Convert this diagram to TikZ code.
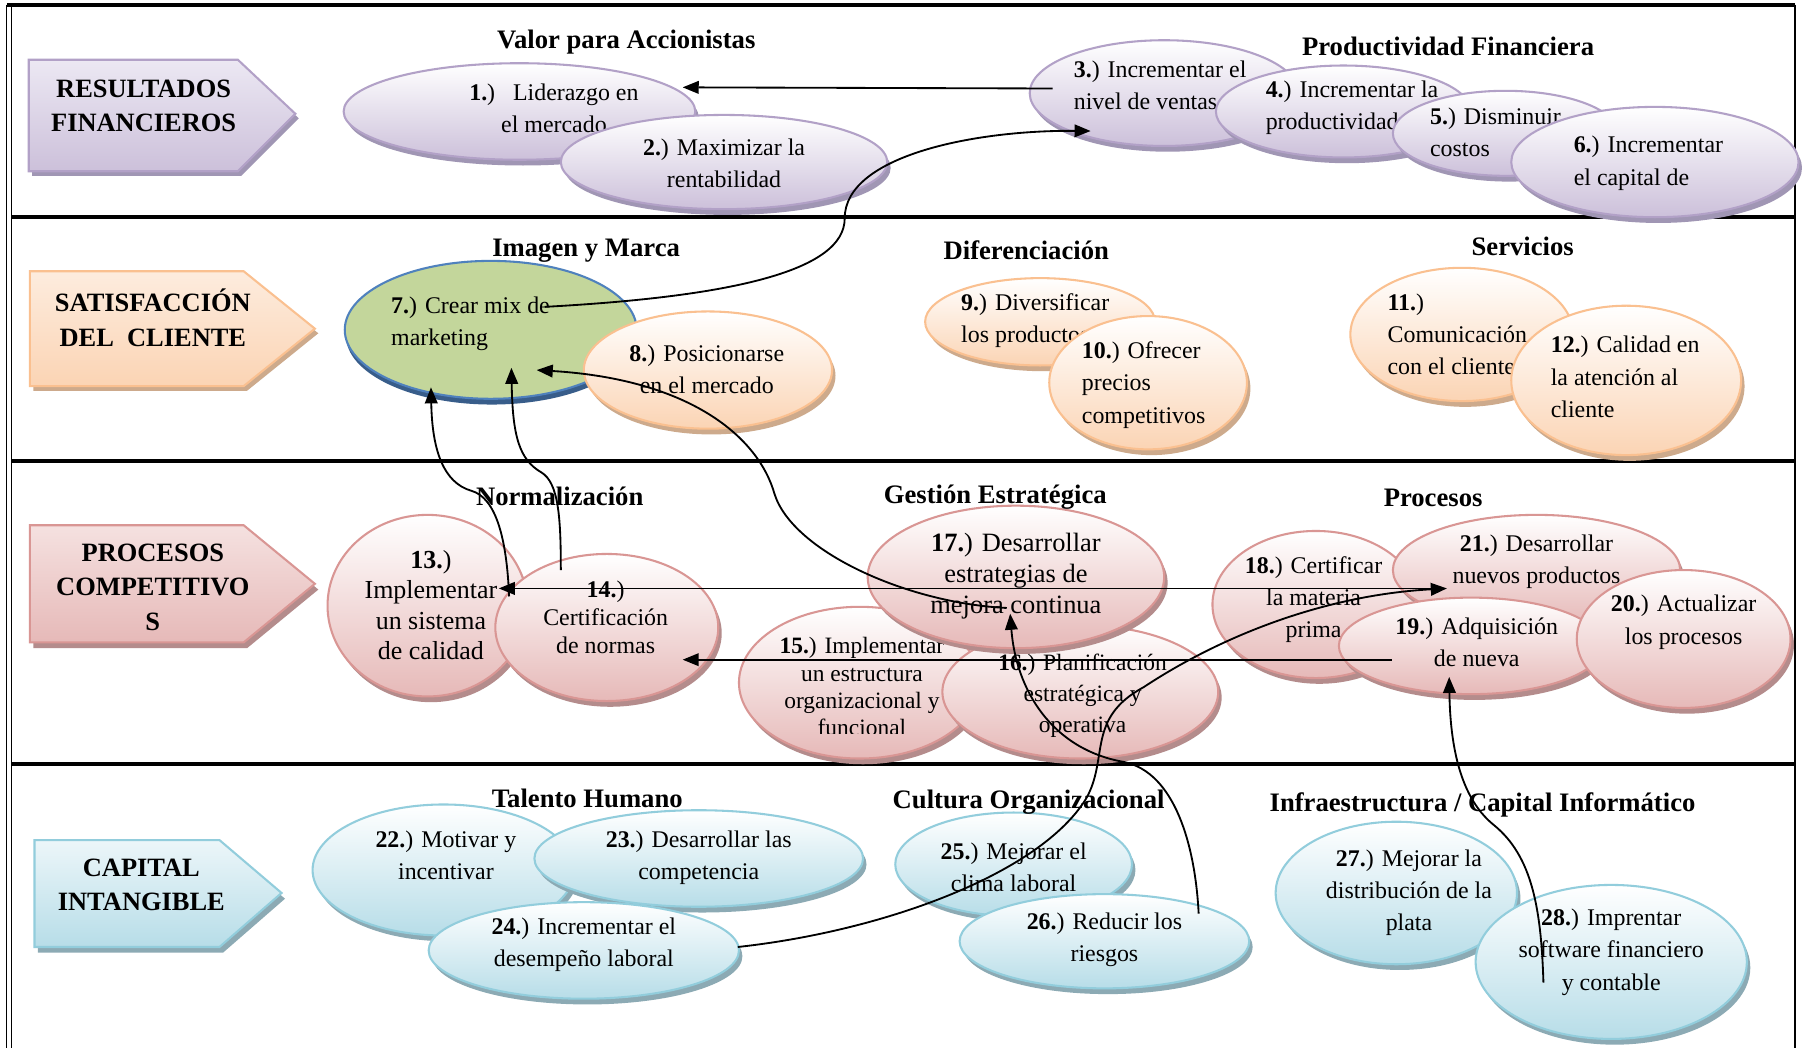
\documentclass[tikz,border=0pt]{standalone}
\usepackage{fontspec}
\setmainfont{Liberation Serif}
\usetikzlibrary{shapes.geometric,shadows,arrows.meta,calc}

% palette
\definecolor{purpB}{RGB}{178,161,199}
\definecolor{purpF}{RGB}{204,192,218}
\definecolor{purpL}{RGB}{236,232,243}
\definecolor{purpS}{RGB}{160,150,180}
\definecolor{orgB}{RGB}{250,192,144}
\definecolor{orgF}{RGB}{251,212,180}
\definecolor{orgL}{RGB}{253,236,222}
\definecolor{orgS}{RGB}{205,170,140}
\definecolor{pinkB}{RGB}{217,150,148}
\definecolor{pinkF}{RGB}{230,185,184}
\definecolor{pinkL}{RGB}{245,225,224}
\definecolor{pinkS}{RGB}{180,140,140}
\definecolor{blueB}{RGB}{146,205,220}
\definecolor{blueF}{RGB}{183,221,232}
\definecolor{blueL}{RGB}{236,246,249}
\definecolor{blueS}{RGB}{140,170,180}
\definecolor{grnF}{RGB}{195,214,155}
\definecolor{grnB}{RGB}{79,129,189}
\definecolor{grnS}{RGB}{56,93,138}

\begin{document}
\begin{tikzpicture}[x=0.5pt,y=-0.5pt,
  bub/.style={ellipse, inner sep=0pt, line width=0.9pt},
  pu/.style={bub, draw=purpB, top color=white, bottom color=purpF,
    drop shadow={shadow xshift=1.5pt, shadow yshift=-2.5pt, fill=purpS, opacity=1}},
  og/.style={bub, draw=orgB, top color=white, bottom color=orgF,
    drop shadow={shadow xshift=1.5pt, shadow yshift=-2.5pt, fill=orgS, opacity=1}},
  pk/.style={bub, draw=pinkB, top color=white, bottom color=pinkF,
    drop shadow={shadow xshift=1.5pt, shadow yshift=-2.5pt, fill=pinkS, opacity=1}},
  bl/.style={bub, draw=blueB, top color=white, bottom color=blueF,
    drop shadow={shadow xshift=1.5pt, shadow yshift=-2.5pt, fill=blueS, opacity=1}},
  gr/.style={bub, draw=grnB, fill=grnF,
    drop shadow={shadow xshift=0.5pt, shadow yshift=-2.5pt, fill=grnS, opacity=1}},
  txt/.style={inner sep=0pt, align=center, font=\fontsize{10.4}{14}\selectfont},
  txtl/.style={txt, align=left, anchor=west},
  hdr/.style={inner sep=0pt, font=\bfseries\fontsize{11.6}{14}\selectfont},
  lbl/.style={inner sep=0pt, align=center, font=\bfseries\fontsize{11.5}{15}\selectfont},
  arr/.style={-{Triangle[length=7pt,width=5.5pt]}, line width=0.8pt},
  rule/.style={line width=1.75pt}
]
\useasboundingbox (0,0) rectangle (1568,912);
\fill[white] (0,0) rectangle (1568,912);

% ---- frame and row rules
\draw[rule] (6,4) -- (1562,4);
\draw[line width=0.5pt] (6,4) -- (6,912);
\draw[line width=0.5pt] (10,4) -- (10,912);
\draw[line width=1pt] (1562,4) -- (1562,912);
\foreach \yy in {189,401,665} \draw[rule] (10,\yy) -- (1562,\yy);

% ---- row tags
\fill[purpS,shift={(3,4)}] (25,52) -- (207,52) -- (257,99) -- (207,149) -- (25,149) -- cycle;
\draw[draw=purpB,line width=0.9pt,top color=purpL,bottom color=purpF] (25,52) -- (207,52) -- (257,99) -- (207,149) -- (25,149) -- cycle;
\node[lbl] (l1) at (125,92) {RESULTADOS\\FINANCIEROS};

\fill[orgS,shift={(3,4)}] (26,236) -- (212,236) -- (274,286) -- (212,336) -- (26,336) -- cycle;
\draw[draw=orgB,line width=0.9pt,top color=orgL,bottom color=orgF] (26,236) -- (212,236) -- (274,286) -- (212,336) -- (26,336) -- cycle;
\node[lbl] (l2) at (133,276.5) {SATISFACCIÓN\\DEL\ \ CLIENTE};

\fill[pinkS,shift={(3,5)}] (26,457) -- (212,457) -- (274,508) -- (212,559) -- (26,559) -- cycle;
\draw[draw=pinkB,line width=0.9pt,top color=pinkL,bottom color=pinkF] (26,457) -- (212,457) -- (274,508) -- (212,559) -- (26,559) -- cycle;
\node[lbl] (l3) at (133,511) {PROCESOS\\COMPETITIVO\\S};

\fill[blueS,shift={(3,5)}] (30,731) -- (191,731) -- (245,777) -- (191,824) -- (30,824) -- cycle;
\draw[draw=blueB,line width=0.9pt,top color=blueL,bottom color=blueF] (30,731) -- (191,731) -- (245,777) -- (191,824) -- (30,824) -- cycle;
\node[lbl] (l4) at (123,770) {CAPITAL\\INTANGIBLE};

% ---- financial results
\node[pu, minimum width=153pt, minimum height=42pt] (n1) at (452,97) {};
\node[txt] (t1) at (482,94) {\textbf{1.})\ \ \ Liderazgo en\\el mercado};
\node[pu, minimum width=142pt, minimum height=41pt] (n2) at (630,141) {};
\node[txt] (t2) at (630,142) {\textbf{2.}) Maximizar la\\rentabilidad};
\node[pu, minimum width=117pt, minimum height=46pt] (n3) at (1013,81) {};
\node[txtl] (t3) at (934,74) {\textbf{3.}) Incrementar el\\nivel de ventas};
\node[pu, minimum width=111pt, minimum height=40pt] (n4) at (1169,97) {};
\node[txtl] (t4) at (1101,94) {\textbf{4.}) Incrementar la\\productividad};
\node[pu, minimum width=98pt, minimum height=37pt] (n5) at (1310,116) {};
\node[txtl] (t5) at (1244,115) {\textbf{5.}) Disminuir\\costos};
\node[pu, minimum width=125pt, minimum height=48pt] (n6) at (1440,141) {};
\node[txtl] (t6) at (1369,142) {\textbf{6.}) Incrementar\\el capital de};

\node[hdr] (h1) at (545,37) {Valor para Accionistas};
\node[hdr] (h2) at (1260,40) {Productividad Financiera};

% ---- customer satisfaction
\node[gr, minimum width=127pt, minimum height=60pt] (n7) at (427,287) {};
\node[txtl] (t7) at (340,282) {\textbf{7.}) Crear mix de\\marketing};
\node[og, minimum width=108pt, minimum height=51pt] (n8) at (616,322) {};
\node[txt] (t8) at (615,321) {\textbf{8.}) Posicionarse\\en el mercado};
\node[og, minimum width=100pt, minimum height=38pt] (n9) at (905,280) {};
\node[txtl] (t9) at (836,279) {\textbf{9.}) Diversificar\\los productos};
\node[og, minimum width=86pt, minimum height=58pt] (n10) at (999,333) {};
\node[txtl] (t10) at (941,335) {\textbf{10.}) Ofrecer\\precios\\competitivos};
\node[og, minimum width=97pt, minimum height=58pt] (n11) at (1272,291) {};
\node[txtl] (t11) at (1207,291) {\textbf{11.})\\Comunicación\\con el cliente};
\node[og, minimum width=100pt, minimum height=65pt] (n12) at (1415,331) {};
\node[txtl] (t12) at (1349,328) {\textbf{12.}) Calidad en\\la atención al\\cliente};

\node[hdr] (h3) at (510,218) {Imagen y Marca};
\node[hdr] (h4) at (893,218) {Diferenciación};
\node[hdr] (h5) at (1325,214) {Servicios};

% ---- competitive processes
\node[pk, minimum width=87pt, minimum height=79pt] (n13) at (372,527) {};
\node[txt, font=\fontsize{11.3}{13.2}\selectfont] (t13) at (375,526.5) {\textbf{13.})\\Implementar\\un sistema\\de calidad};
\node[pk, minimum width=97pt, minimum height=64pt] (n14) at (528,546) {};
\node[txt, font=\fontsize{10.4}{12.3}\selectfont] (t14) at (527,537) {\textbf{14.})\\Certificación\\de normas};
\node[pk, minimum width=105pt, minimum height=66pt] (n15) at (748,594) {};
\begin{scope}
  \clip (640,520) rectangle (860,638);
  \node[txt, font=\fontsize{10.2}{11.85}\selectfont] (t15) at (750,597.5) {\textbf{15.}) Implementar\\un estructura\\organizacional y\\funcional};
\end{scope}
\node[pk, minimum width=120pt, minimum height=58pt] (n16) at (940,602) {};
\node[txt, font=\fontsize{10.2}{13.5}\selectfont] (t16) at (942,605) {\textbf{16.}) Planificación\\estratégica y\\operativa};
\node[pk, minimum width=129pt, minimum height=62pt] (n17) at (884,502) {};
\node[txt, font=\fontsize{11.5}{13.5}\selectfont] (t17) at (884,501) {\textbf{17.}) Desarrollar\\estrategias de\\mejora continua};
\node[pk, minimum width=90pt, minimum height=64pt] (n18) at (1145,526) {};
\node[txt] (t18) at (1143,522) {\textbf{18.}) Certificar\\la materia\\prima};
\node[pk, minimum width=125pt, minimum height=48pt] (n21) at (1337,496) {};
\node[txt] (t21) at (1337,489) {\textbf{21.}) Desarrollar\\nuevos productos};
\node[pk, minimum width=115pt, minimum height=42pt] (n19) at (1280,562) {};
\node[txt] (t19) at (1285,559) {\textbf{19.}) Adquisición\\de nueva};
\node[pk, minimum width=93pt, minimum height=60pt] (n20) at (1465,556) {};
\node[txt] (t20) at (1465,541.5) {\textbf{20.}) Actualizar\\los procesos};

\node[hdr] (h6) at (487,432) {Normalización};
\node[hdr] (h7) at (866,433) {Gestión Estratégica};
\node[hdr] (h8) at (1247,433) {Procesos};

% ---- intangible capital
\node[bl, minimum width=114pt, minimum height=57pt] (n22) at (386,757) {};
\node[txt] (t22) at (388,744.5) {\textbf{22.}) Motivar y\\incentivar};
\node[bl, minimum width=143pt, minimum height=42pt] (n23) at (608,747) {};
\node[txt] (t23) at (608,746) {\textbf{23.}) Desarrollar las\\competencia};
\node[bl, minimum width=135pt, minimum height=42pt] (n24) at (508,827) {};
\node[txt] (t24) at (508,822) {\textbf{24.}) Incrementar el\\desempeño laboral};
\node[bl, minimum width=103pt, minimum height=45pt] (n25) at (882,752) {};
\node[txt] (t25) at (882,754.5) {\textbf{25.}) Mejorar el\\clima laboral};
\node[bl, minimum width=126pt, minimum height=41pt] (n26) at (961,819) {};
\node[txt] (t26) at (961,817.5) {\textbf{26.}) Reducir los\\riesgos};
\node[bl, minimum width=105pt, minimum height=62pt] (n27) at (1215,777) {};
\node[txt] (t27) at (1226,777) {\textbf{27.}) Mejorar la\\distribución de la\\plata};
\node[bl, minimum width=118pt, minimum height=67pt] (n28) at (1402,837) {};
\node[txt] (t28) at (1402,828.5) {\textbf{28.}) Imprentar\\software financiero\\y contable};

\node[hdr] (h9) at (511,695) {Talento Humano};
\node[hdr] (h10) at (895,698) {Cultura Organizacional};
\node[hdr] (h11) at (1290,700) {Infraestructura / Capital Informático};

% ---- cause-effect links
\draw[arr] ($(n3)+(-97,-4)$) -- ($(n1)+(142,-21)$);
\draw[arr] ($(n7)+(47,-20)$) .. controls (640,258) and (735,235) .. (735,190)
  .. controls (735,135) and (850,113) .. ($(n3)+(-64,33)$);
\draw[arr] ($(n14)+(-40,-50)$) .. controls (488,450) and (486,420) .. (471,411)
  .. controls (452,400) and (446,380) .. ($(n7)+(18,33)$);
\draw[arr] ($(n13)+(71,-8)$) .. controls (441,470) and (432,433) .. (410,427)
  .. controls (386,420) and (376,392) .. ($(n7)+(-52,50)$);
\draw[arr] ($(n17)+(-8,27)$) .. controls (790,525) and (690,480) .. (674,430)
  .. controls (660,380) and (600,330) .. ($(n7)+(40,35)$);
\draw[arr] ($(n26)+(82,-24)$) .. controls (1040,735) and (1022,672) .. (978,663)
  .. controls (915,652) and (884,600) .. ($(n17)+(-5,32)$);
\draw[arr] ($(n24)+(134,-3)$) .. controls (770,810) and (905,760) .. (945,695)
  .. controls (965,660) and (945,625) .. (995,598)
  .. controls (1060,555) and (1150,518) .. ($(n21)+(-78,16)$);
\draw[arr] ($(n28)+(-59,18)$) .. controls (1341,790) and (1333,745) .. (1300,718)
  .. controls (1275,698) and (1262,660) .. ($(n19)+(-19,27)$);
\draw[arr] ($(n21)+(-79,16)$) -- ($(n13)+(62,-15)$);
\draw[arr] ($(n19)+(-69,12)$) -- ($(n14)+(66,28)$);
\end{tikzpicture}
\end{document}
